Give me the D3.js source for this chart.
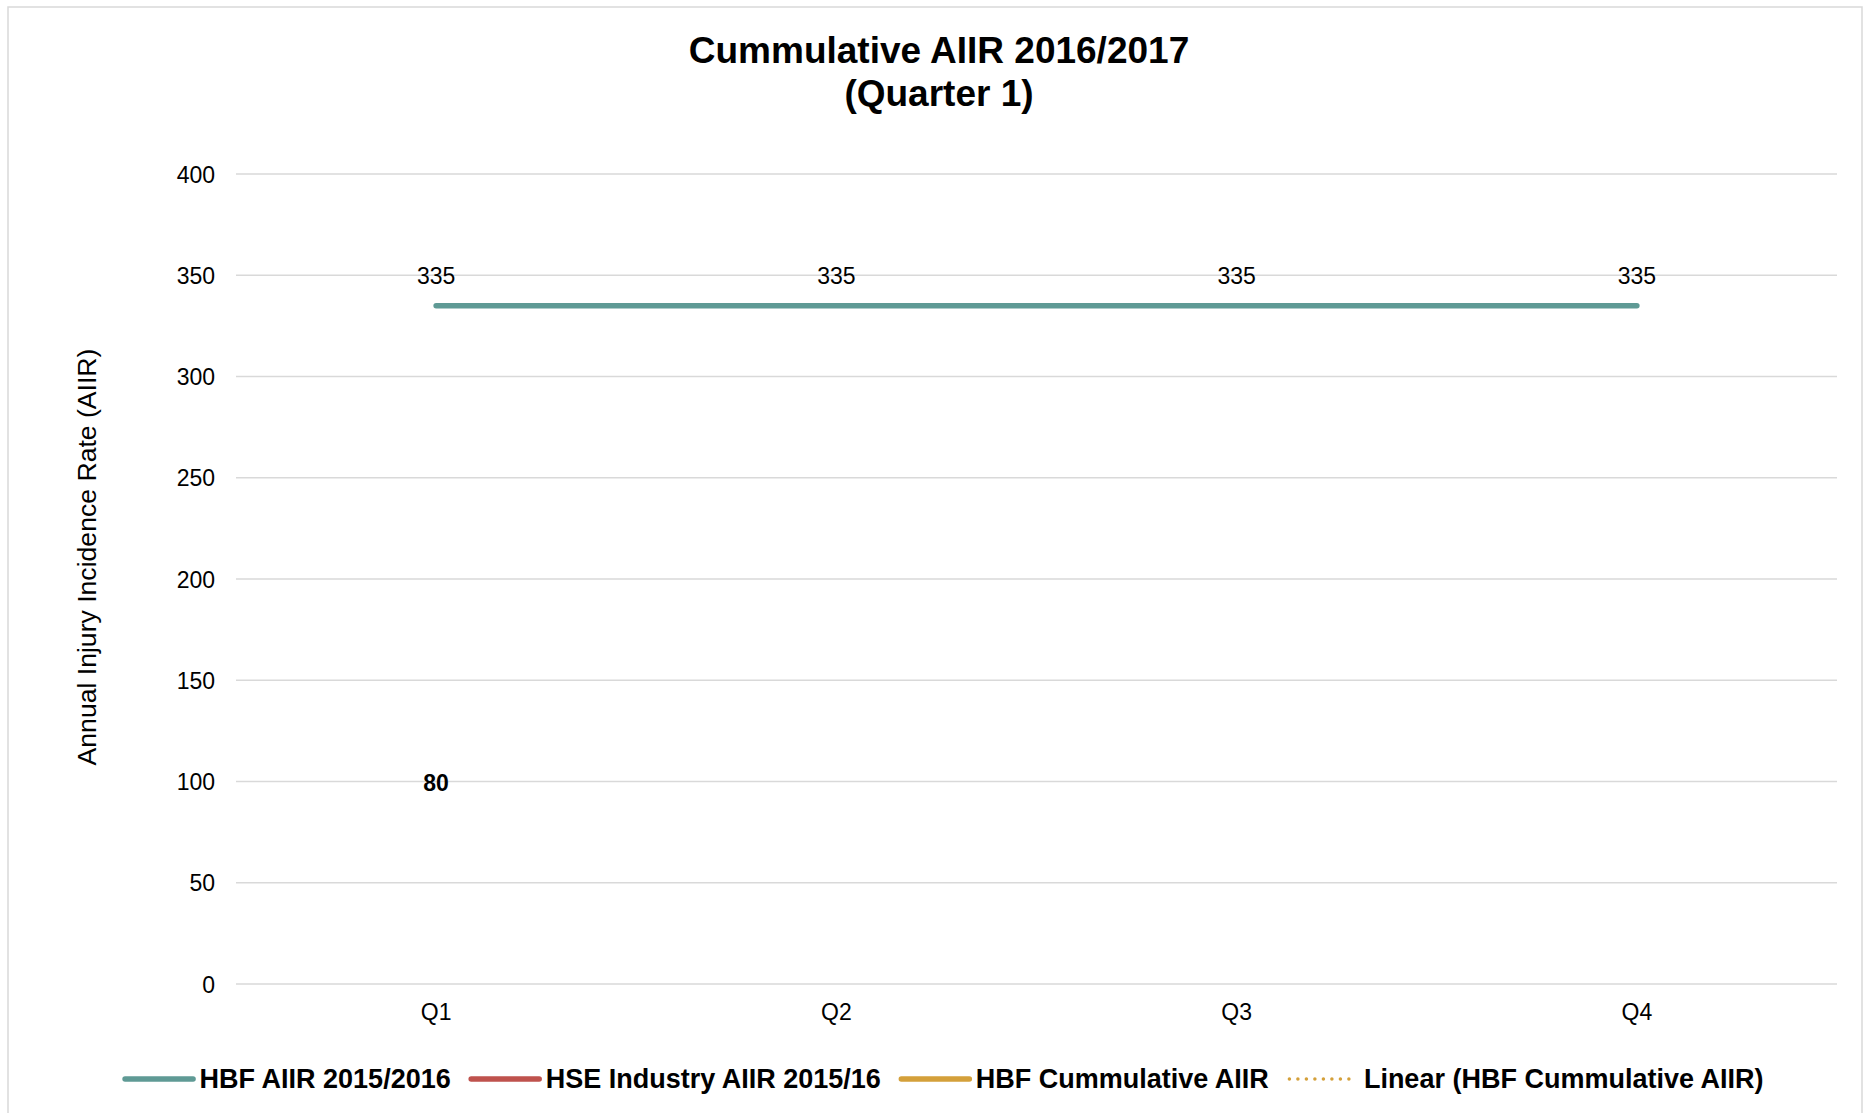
<!DOCTYPE html>
<html>
<head>
<meta charset="utf-8">
<script src="https://cdn.jsdelivr.net/npm/d3@7"></script>
<style>
  html, body { margin: 0; padding: 0; background: #fff; }
  svg text { font-family: Arial, "Liberation Sans", sans-serif; }
</style>
</head>
<body>
<svg id="chart" width="1870" height="1113"></svg>
<script>
// ---- data ----
const categories = ["Q1", "Q2", "Q3", "Q4"];
const hbfAiir1516 = [335, 335, 335, 335];
const hseIndustry1516 = [null, null, null, null];
const hbfCumulative = [80, null, null, null];
const yTicks = [0, 50, 100, 150, 200, 250, 300, 350, 400];
const titleLines = ["Cummulative AIIR 2016/2017", "(Quarter 1)"];
const yAxisTitle = "Annual Injury Incidence Rate (AIIR)";
const legendItems = ["HBF AIIR 2015/2016", "HSE Industry AIIR 2015/16", "HBF Cummulative AIIR", "Linear (HBF Cummulative AIIR)"];

// ---- styles ----
const colTeal = "#5F9A95", colRed = "#BF524D", colGold = "#D4A03A", colGrid = "#D9D9D9";

const svg = d3.select("#chart");
const margin = { left: 236, right: 1837, top: 174, bottom: 984 };

// frame
svg.append("rect").attr("x", 8).attr("y", 7).attr("width", 1854).attr("height", 1120)
  .attr("fill", "#fff").attr("stroke", colGrid).attr("stroke-width", 1.5);

const x = d3.scaleBand().domain(categories).range([margin.left, margin.right]).paddingInner(0).paddingOuter(0);
const xc = d => x(d) + x.bandwidth() / 2;
const y = d3.scaleLinear().domain([0, 400]).range([margin.bottom, margin.top]);

// gridlines
svg.append("g").selectAll("line").data(yTicks).join("line")
  .attr("x1", margin.left).attr("x2", margin.right)
  .attr("y1", d => y(d)).attr("y2", d => y(d))
  .attr("stroke", colGrid).attr("stroke-width", 1.5);

// y axis
const yAxis = d3.axisLeft(y).tickValues(yTicks).tickSize(0).tickPadding(0);
const gy = svg.append("g").attr("transform", `translate(215,0)`).call(yAxis);
gy.select(".domain").remove();
gy.selectAll("text").attr("font-size", 23).attr("fill", "#000").attr("dy", "0.35em")
  .style("font-family", "Arial, 'Liberation Sans', sans-serif");

// x axis
const xAxis = d3.axisBottom(x).tickSize(0).tickPadding(0);
const gx = svg.append("g").attr("transform", `translate(0,1012)`).call(xAxis);
gx.select(".domain").remove();
gx.selectAll("text").attr("font-size", 23).attr("fill", "#000").attr("dy", "0.35em")
  .style("font-family", "Arial, 'Liberation Sans', sans-serif");

// y axis title
svg.append("text").attr("transform", "translate(87,557) rotate(-90)")
  .attr("text-anchor", "middle").attr("dy", "0.35em").attr("font-size", 26.6).attr("fill", "#000")
  .text(yAxisTitle);

// title
svg.append("g").selectAll("text").data(titleLines).join("text")
  .attr("x", 939).attr("y", (d, i) => 50 + i * 43).attr("dy", "0.35em")
  .attr("text-anchor", "middle").attr("font-size", 37).attr("font-weight", "bold").attr("fill", "#000")
  .text(d => d);

// series lines
const lineGen = d3.line().defined(d => d.v != null).x(d => xc(d.c)).y(d => y(d.v));
function seriesData(arr) { return categories.map((c, i) => ({ c, v: arr[i] })); }

svg.append("path").datum(seriesData(hseIndustry1516)).attr("d", lineGen)
  .attr("fill", "none").attr("stroke", colRed).attr("stroke-width", 5.5).attr("stroke-linecap", "butt");
svg.append("path").datum(seriesData(hbfAiir1516)).attr("d", lineGen)
  .attr("fill", "none").attr("stroke", colTeal).attr("stroke-width", 5.5).attr("stroke-linecap", "round").attr("stroke-linejoin", "round");
svg.append("path").datum(seriesData(hbfCumulative)).attr("d", lineGen)
  .attr("fill", "none").attr("stroke", colGold).attr("stroke-width", 5.5).attr("stroke-linecap", "butt");

// data labels
svg.append("g").selectAll("text").data(seriesData(hbfAiir1516).filter(d => d.v != null)).join("text")
  .attr("x", d => xc(d.c)).attr("y", d => y(d.v) - 30).attr("dy", "0.35em")
  .attr("text-anchor", "middle").attr("font-size", 23).attr("fill", "#000").text(d => d.v);
svg.append("g").selectAll("text").data(seriesData(hbfCumulative).filter(d => d.v != null)).join("text")
  .attr("x", d => xc(d.c)).attr("y", d => y(d.v) - 39).attr("dy", "0.35em")
  .attr("text-anchor", "middle").attr("font-size", 23).attr("font-weight", "bold").attr("fill", "#000").text(d => d.v);

// legend
const legendStyles = [
  { color: colTeal, dash: null, w: 5.5 },
  { color: colRed, dash: null, w: 5.5 },
  { color: colGold, dash: null, w: 5.5 },
  { color: colGold, dash: "0,8.5", w: 3.5 }
];
const lg = svg.append("g");
let cursor = 0;
const lineLen = 68, gapLT = 9, gapItem = 18;
legendItems.forEach((name, i) => {
  const g = lg.append("g").attr("transform", `translate(${cursor},0)`);
  const st = legendStyles[i];
  g.append("line").attr("x1", 2.5).attr("x2", 2.5 + lineLen).attr("y1", 0).attr("y2", 0)
    .attr("stroke", st.color).attr("stroke-width", st.w).attr("stroke-linecap", "round")
    .attr("stroke-dasharray", st.dash);
  const t = g.append("text").attr("x", lineLen + gapLT).attr("y", 0).attr("dy", "0.35em")
    .attr("font-size", 27).attr("font-weight", "bold").attr("fill", "#000").text(name);
  cursor += lineLen + gapLT + t.node().getComputedTextLength() + gapItem;
});
const totalW = cursor - gapItem;
lg.attr("transform", `translate(${943 - totalW / 2},1079)`);
</script>
</body>
</html>
